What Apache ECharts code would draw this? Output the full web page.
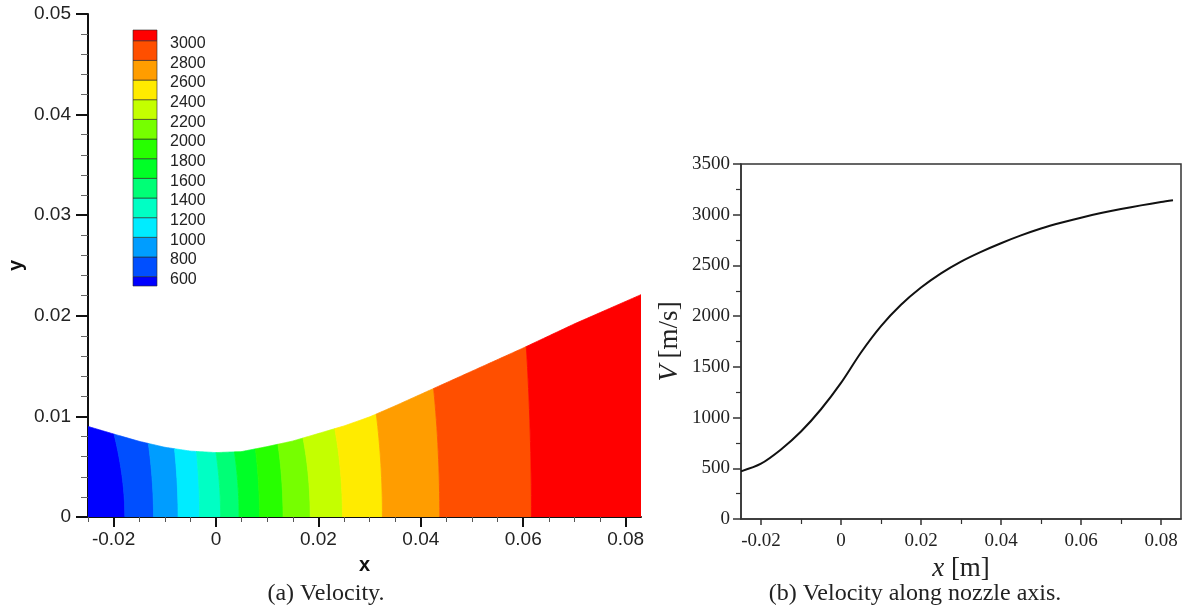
<!DOCTYPE html>
<html><head><meta charset="utf-8">
<script src="https://cdn.jsdelivr.net/npm/echarts@6/dist/echarts.min.js"></script>
<style>html,body{margin:0;padding:0;background:#fff}#c{width:1182px;height:609px}</style>
</head><body><div id="c"></div>
<script>
// ---------- DATA ----------
// (a) nozzle wall profile, metres
const wallX = [-0.025, -0.02, -0.015, -0.01, -0.005, 0, 0.005, 0.01, 0.015, 0.02, 0.025, 0.03, 0.035, 0.04, 0.05, 0.06, 0.07, 0.083];
const wallY = [0.0090, 0.00825, 0.00752, 0.00693, 0.00655, 0.00640, 0.00650, 0.00700, 0.00755, 0.00830, 0.00905, 0.00995, 0.01105, 0.0122, 0.0145, 0.0168, 0.0192, 0.0221];
// contour levels (m/s) and where each level line meets the axis (y=0) and the wall
const levels = [600, 800, 1000, 1200, 1400, 1600, 1800, 2000, 2200, 2400, 2600, 2800, 3000];
const levelXAxis = [-0.0178, -0.0122, -0.0074, -0.0032, 0.0009, 0.0045, 0.0085, 0.0131, 0.0184, 0.0247, 0.0325, 0.0437, 0.0616];
const levelXWall = [-0.0199, -0.0132, -0.0081, -0.0038, 0.0000, 0.0036, 0.0077, 0.0121, 0.0170, 0.0232, 0.0313, 0.0425, 0.0606];
const bandColors = ['#0000FF', '#004FFF', '#009DFF', '#00ECFF', '#00FFC4', '#00FF76', '#00FF27', '#27FF00', '#76FF00', '#C4FF00', '#FFEB00', '#FF9D00', '#FF4F00', '#FF0000'];
const legendRange = [505, 3109];
const leftXTicks = [-0.02, 0, 0.02, 0.04, 0.06, 0.08];
const leftXMinor = [-0.025, -0.015, -0.01, -0.005, 0.005, 0.01, 0.015, 0.025, 0.03, 0.035, 0.045, 0.05, 0.055, 0.065, 0.07, 0.075];
const leftXRange = [-0.025, 0.083];
// (b) velocity along nozzle axis
const axisX = [-0.025, -0.02, -0.015, -0.01, -0.005, 0, 0.005, 0.01, 0.015, 0.02, 0.025, 0.03, 0.035, 0.04, 0.045, 0.05, 0.055, 0.06, 0.065, 0.07, 0.075, 0.08, 0.083];
const axisV = [470, 545, 685, 862, 1082, 1342, 1642, 1902, 2112, 2282, 2422, 2538, 2634, 2719, 2796, 2864, 2921, 2971, 3016, 3056, 3092, 3125, 3142];
const rightXTicks = [-0.02, 0, 0.02, 0.04, 0.06, 0.08];
const rightXMinor = [-0.01, 0.01, 0.03, 0.05, 0.07];
const rightXRange = [-0.025, 0.085];

// ---------- HELPERS ----------
function wallAt(x) {
  if (x <= wallX[0]) return wallY[0];
  for (let i = 1; i < wallX.length; i++) {
    if (x <= wallX[i]) {
      const t = (x - wallX[i - 1]) / (wallX[i] - wallX[i - 1]);
      return wallY[i - 1] + t * (wallY[i] - wallY[i - 1]);
    }
  }
  return wallY[wallY.length - 1];
}
function boundaryPts(xb, xt, api) {
  const pts = [], N = 16;
  for (let i = 0; i <= N; i++) {
    const t = i / N;
    const x = xb + (xt - xb) * t * t;
    pts.push(api.coord([x, t * wallAt(x)]));
  }
  return pts;
}
const plain = v => String(v);

const SANS = "'Liberation Sans', Arial, Helvetica, sans-serif";
const SERIF = "'Liberation Serif', 'Times New Roman', serif";

const chart = echarts.init(document.getElementById('c'), null, {renderer: 'canvas'});
const option = {
  animation: false,
  backgroundColor: '#fff',
  grid: [
    {left: 88, top: 14, width: 553, height: 503},
    {left: 741, top: 164, width: 440, height: 355, show: true, borderColor: '#333', borderWidth: 1.5},
    {left: 133, top: 30, width: 24, height: 256}
  ],
  xAxis: [
    { // 0 left major
      gridIndex: 0, type: 'value', min: leftXRange[0], max: leftXRange[1], position: 'bottom',
      name: 'x', nameLocation: 'middle', nameGap: 38,
      nameTextStyle: {fontFamily: SANS, fontWeight: 'bold', fontSize: 20, color: '#111'},
      axisLine: {show: true, onZero: false, lineStyle: {color: '#111', width: 2}},
      axisTick: {show: true, length: 10, customValues: leftXTicks, lineStyle: {color: '#111', width: 2}},
      axisLabel: {customValues: leftXTicks, formatter: plain, margin: 13, fontFamily: SANS, fontSize: 19, color: '#222'},
      splitLine: {show: false}
    },
    { // 1 left minor
      gridIndex: 0, type: 'value', min: leftXRange[0], max: leftXRange[1], position: 'bottom',
      axisLine: {show: false, onZero: false},
      axisTick: {show: true, length: 5, customValues: leftXMinor, lineStyle: {color: '#555', width: 1}},
      axisLabel: {show: false}, splitLine: {show: false}
    },
    { // 2 right major
      gridIndex: 1, type: 'value', min: rightXRange[0], max: rightXRange[1], position: 'bottom',
      name: '{i|x} [m]', nameLocation: 'middle', nameGap: 19,
      nameTextStyle: {fontFamily: SERIF, fontSize: 27, color: '#222',
        rich: {i: {fontFamily: SERIF, fontStyle: 'italic', fontSize: 27, color: '#222'}}},
      axisLine: {show: true, onZero: false, lineStyle: {color: '#333', width: 1.5}},
      axisTick: {show: true, length: 6, customValues: rightXTicks, lineStyle: {color: '#333', width: 1.5}},
      axisLabel: {customValues: rightXTicks, formatter: plain, margin: 13, fontFamily: SERIF, fontSize: 19, color: '#222'},
      splitLine: {show: false}
    },
    { // 3 right minor
      gridIndex: 1, type: 'value', min: rightXRange[0], max: rightXRange[1], position: 'bottom',
      axisLine: {show: false, onZero: false},
      axisTick: {show: true, length: 5, customValues: rightXMinor, lineStyle: {color: '#333', width: 1.2}},
      axisLabel: {show: false}, splitLine: {show: false}
    },
    { // 4 colorbar
      gridIndex: 2, type: 'value', min: 0, max: 1, show: false
    }
  ],
  yAxis: [
    { // 0 left
      gridIndex: 0, type: 'value', min: 0, max: 0.05, interval: 0.01, position: 'left',
      name: 'y', nameLocation: 'middle', nameGap: 62, nameRotate: 90,
      nameTextStyle: {fontFamily: SANS, fontWeight: 'bold', fontSize: 20, color: '#111'},
      axisLine: {show: true, onZero: false, lineStyle: {color: '#111', width: 2}},
      axisTick: {show: true, length: 12, lineStyle: {color: '#111', width: 2}},
      minorTick: {show: true, splitNumber: 5, length: 7, lineStyle: {color: '#666', width: 1}},
      axisLabel: {formatter: plain, margin: 17, fontFamily: SANS, fontSize: 19, color: '#222'},
      splitLine: {show: false}
    },
    { // 1 right
      gridIndex: 1, type: 'value', min: 0, max: 3500, interval: 500, position: 'left',
      name: '{i|V} [m/s]', nameLocation: 'middle', nameGap: 58, nameRotate: 90,
      nameTextStyle: {fontFamily: SERIF, fontSize: 27, color: '#222',
        rich: {i: {fontFamily: SERIF, fontStyle: 'italic', fontSize: 27, color: '#222'}}},
      axisLine: {show: true, onZero: false, lineStyle: {color: '#333', width: 1.5}},
      axisTick: {show: true, length: 8, lineStyle: {color: '#333', width: 1.5}},
      minorTick: {show: true, splitNumber: 2, length: 5, lineStyle: {color: '#333', width: 1.2}},
      axisLabel: {formatter: plain, margin: 11, fontFamily: SERIF, fontSize: 19, color: '#222'},
      splitLine: {show: false}
    },
    { // 2 colorbar
      gridIndex: 2, type: 'value', min: legendRange[0], max: legendRange[1], position: 'right',
      axisLine: {show: false, onZero: false}, axisTick: {show: false}, splitLine: {show: false},
      axisLabel: {customValues: levels, formatter: plain, margin: 13, verticalAlign: 'top', lineHeight: 6,
        fontFamily: SANS, fontSize: 16, color: '#222'}
    }
  ],
  series: [
    {
      type: 'custom', name: 'velocity contour', xAxisIndex: 0, yAxisIndex: 0, clip: true,
      data: bandColors.map((c, i) => [i]),
      renderItem: function (params, api) {
        const k = api.value(0);
        const lb = k === 0 ? [leftXRange[0], leftXRange[0]] : [levelXAxis[k - 1], levelXWall[k - 1]];
        const rb = k === bandColors.length - 1 ? [leftXRange[1], leftXRange[1]] : [levelXAxis[k], levelXWall[k]];
        const pts = boundaryPts(lb[0], lb[1], api);
        const M = 40;
        for (let i = 1; i < M; i++) {
          const x = lb[1] + (rb[1] - lb[1]) * i / M;
          pts.push(api.coord([x, wallAt(x)]));
        }
        const right = boundaryPts(rb[0], rb[1], api).reverse();
        for (const p of right) pts.push(p);
        const col = bandColors[k];
        return {type: 'polygon', shape: {points: pts}, style: {fill: col, stroke: col, lineWidth: 0.8}};
      }
    },
    {
      type: 'custom', name: 'colorbar', xAxisIndex: 4, yAxisIndex: 2,
      data: bandColors.map((c, i) => [i]),
      renderItem: function (params, api) {
        const k = api.value(0);
        const lo = k === 0 ? legendRange[0] : levels[k - 1];
        const hi = k === bandColors.length - 1 ? legendRange[1] : levels[k];
        const p1 = api.coord([0, hi]);
        const p2 = api.coord([1, lo]);
        return {type: 'rect', shape: {x: p1[0], y: p1[1], width: p2[0] - p1[0], height: p2[1] - p1[1]},
          style: {fill: bandColors[k], stroke: 'rgba(40,40,40,0.6)', lineWidth: 1}};
      }
    },
    {
      type: 'line', name: 'V', xAxisIndex: 2, yAxisIndex: 1,
      data: axisX.map((x, i) => [x, axisV[i]]),
      showSymbol: false, smooth: 0.3,
      lineStyle: {color: '#111', width: 2}
    }
  ],
  graphic: [
    {type: 'text', x: 326, y: 594, style: {text: '(a) Velocity.', align: 'center', verticalAlign: 'middle', font: "24px 'Liberation Serif', serif", fill: '#222'}},
    {type: 'text', x: 915, y: 594, style: {text: '(b) Velocity along nozzle axis.', align: 'center', verticalAlign: 'middle', font: "24px 'Liberation Serif', serif", fill: '#222'}}
  ]
};
chart.setOption(option);
</script>
</body></html>
